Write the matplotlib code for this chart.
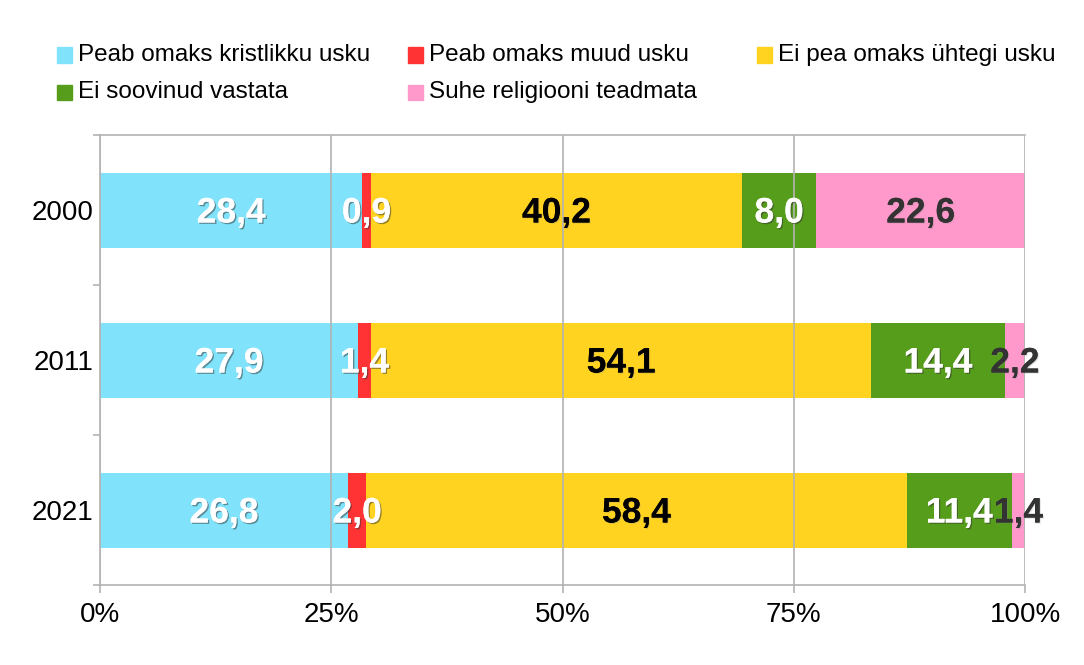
import matplotlib
matplotlib.use("Agg")
import matplotlib.pyplot as plt
import matplotlib.patheffects as pe
from matplotlib.patches import Rectangle
import numpy as np

plt.rcParams['font.family'] = ['Liberation Sans', 'DejaVu Sans']

years = ["2000", "2011", "2021"]
series = ["Peab omaks kristlikku usku", "Peab omaks muud usku", "Ei pea omaks ühtegi usku",
          "Ei soovinud vastata", "Suhe religiooni teadmata"]
kristlik = [28.4, 27.9, 26.8]
muud = [0.9, 1.4, 2.0]
yhtegi = [40.2, 54.1, 58.4]
ei_soovinud = [8.0, 14.4, 11.4]
teadmata = [22.6, 2.2, 1.4]
ticks = ["0%", "25%", "50%", "75%", "100%"]

colors = ["#80e3fb", "#ff3333", "#ffd320", "#579d1c", "#ff99cc"]
label_colors = ["white", "white", "black", "white", "#333333"]

data = np.array([kristlik, muud, yhtegi, ei_soovinud, teadmata])
totals = data.sum(axis=0)
pct = data / totals * 100

W, H = 1084, 665
fig = plt.figure(figsize=(W / 100, H / 100), dpi=100)
ax = fig.add_axes([100 / W, 1 - 585 / H, 925 / W, 450 / H])

y = np.arange(len(years))
left = np.zeros(len(years))
for i in range(len(series)):
    ax.barh(y, pct[i], left=left, height=0.5, color=colors[i], zorder=1)
    for j in range(len(years)):
        cx = left[j] + pct[i][j] / 2
        txt = f"{data[i][j]:.1f}".replace(".", ",")
        if label_colors[i] == "white":
            effects = [pe.withSimplePatchShadow(offset=(1.0, -1.0), shadow_rgbFace="#333333", alpha=0.5),
                       pe.Normal()]
        else:
            effects = [pe.withSimplePatchShadow(offset=(0.8, -0.8), shadow_rgbFace="#888888", alpha=0.25),
                       pe.Normal()]
        ax.text(cx, y[j] + 0.02, txt, ha="center", va="center", fontsize=25.5, fontweight="bold",
                color=label_colors[i], zorder=5, path_effects=effects)
    left += pct[i]

ax.set_xlim(0, 100)
ax.set_ylim(2.5, -0.5)
ax.set_xticks([0, 25, 50, 75, 100])
ax.set_xticklabels(ticks, fontsize=20)
ax.set_yticks([-0.5, 0.5, 1.5, 2.5])
ax.set_yticklabels([])
ax.set_yticks(y, minor=True)
ax.set_yticklabels(years, minor=True, fontsize=20)
for lbl in ax.get_yticklabels(minor=True):
    lbl.set_y(lbl.get_position()[1])
ax.tick_params(axis="y", which="minor", length=0, pad=5)
ax.tick_params(axis="y", which="major", length=5, color="#b3b3b3", width=1.2)
ax.tick_params(axis="x", which="major", length=6, color="#b3b3b3", width=1.2, pad=6)

ax.grid(axis="x", color="#b3b3b3", linewidth=1.2, zorder=2)
ax.set_axisbelow(False)
for s in ["left", "bottom", "top"]:
    ax.spines[s].set_color("#b3b3b3")
    ax.spines[s].set_linewidth(1.2)
ax.spines["right"].set_visible(False)

# legend (fixed column widths)
leg_x = [57, 408, 757]
leg_y = [55, 92]
pos = [(0, 0), (1, 0), (2, 0), (0, 1), (1, 1)]
for i, name in enumerate(series):
    c, r = pos[i]
    xm, ym = leg_x[c], leg_y[r]
    fig.patches.append(Rectangle((xm / W, 1 - (ym + 7.5) / H), 15 / W, 15 / H,
                                 transform=fig.transFigure, color=colors[i]))
    fig.text((xm + 21) / W, 1 - ym / H, name, fontsize=17.5, va="center", ha="left")

fig.savefig("out.png", dpi=100)
